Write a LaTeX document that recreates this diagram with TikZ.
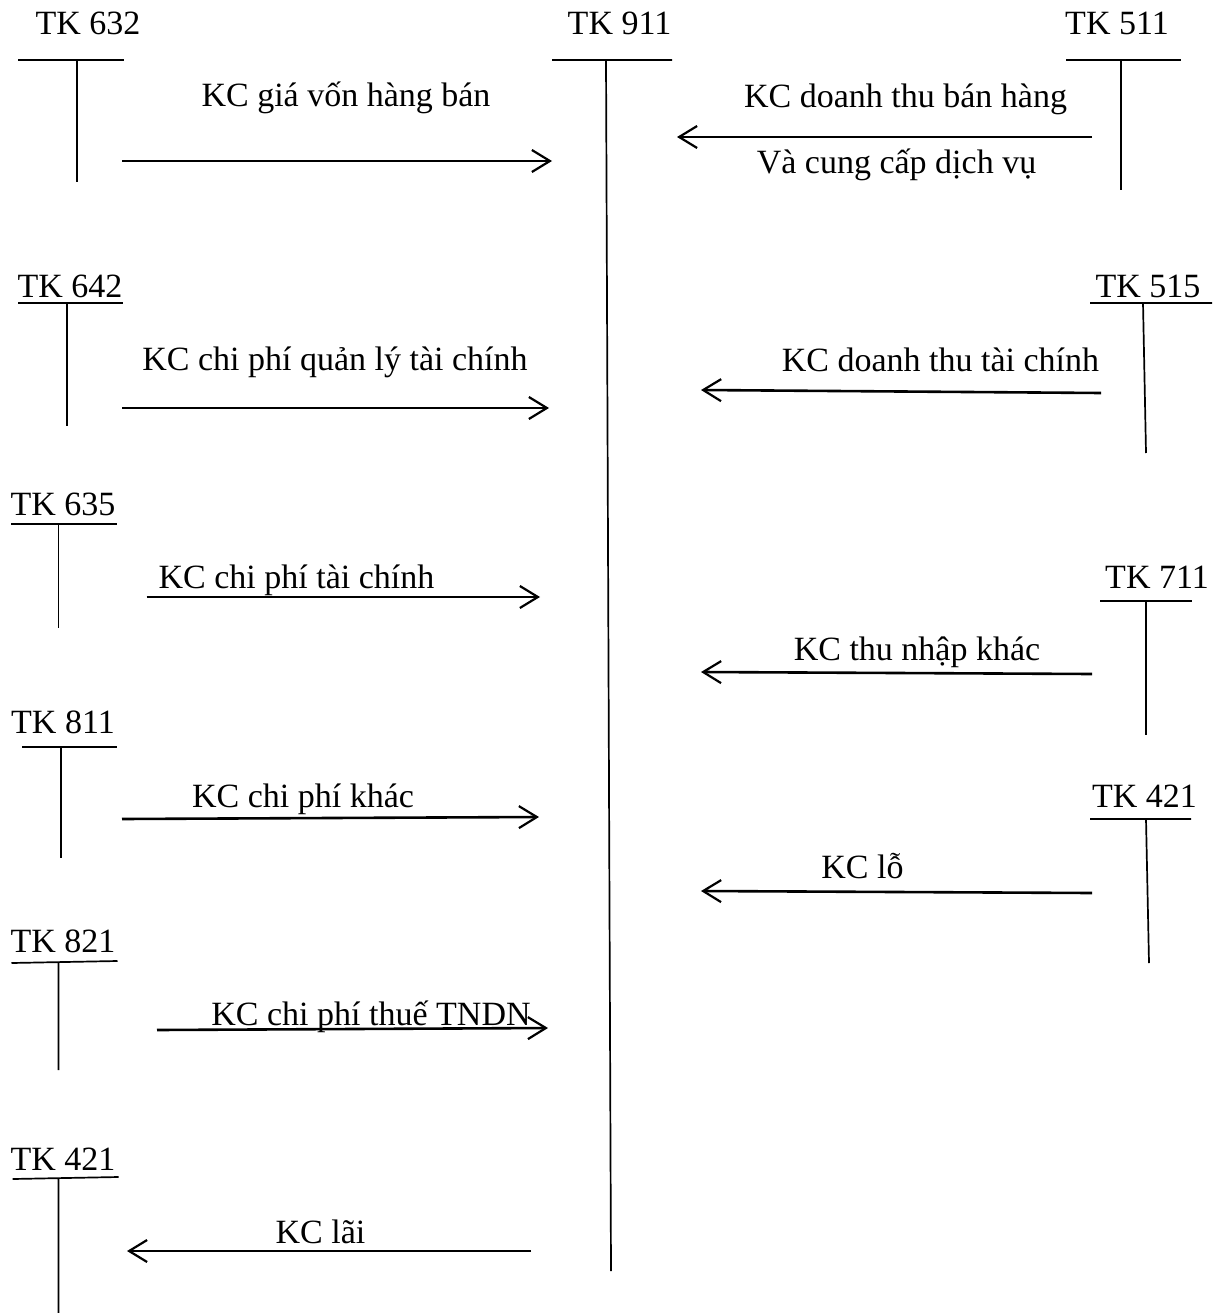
\documentclass[tikz,border=0pt]{standalone}
\usepackage{fontspec}
\setmainfont{Liberation Serif}
\usetikzlibrary{arrows.meta}
\begin{document}
\begin{tikzpicture}[x=1pt,y=-1pt,
  lbl/.style={anchor=base, inner sep=0pt, font=\fontsize{34}{40}\selectfont},
  tline/.style={line width=1.7pt},
  flow/.style={line width=2.6pt, -{Straight Barb[length=18pt,width=22pt,line width=2.2pt]}}
]
\useasboundingbox (0,0) rectangle (1222,1313);

% account titles
\node[lbl] (t632) at (88,35) {TK 632};
\node[lbl] (t911) at (619.5,35) {TK 911};
\node[lbl] (t511) at (1117,35) {TK 511};
\node[lbl] (t642) at (70,298) {TK 642};
\node[lbl] (t515) at (1148,298) {TK 515};
\node[lbl] (t635) at (63,515) {TK 635};
\node[lbl] (t711) at (1157,588) {TK 711};
\node[lbl] (t811) at (63,733) {TK 811};
\node[lbl] (t421r) at (1144.5,807) {TK 421};
\node[lbl] (t821) at (63,952) {TK 821};
\node[lbl] (t421l) at (63,1170) {TK 421};

% T-accounts
\draw[tline] (18,60) -- (124,60) (77,60) -- (77,182);
\draw[tline] (552,60) -- (672,60) (606,60) -- (611,1271);
\draw[tline] (1066,60) -- (1181,60) (1121,60) -- (1121,190);
\draw[tline] (18,303) -- (123,303) (67,303) -- (67,426);
\draw[tline] (1090,303) -- (1212,303) (1143,303) -- (1146,453);
\draw[tline] (11,524) -- (117,524) (58.5,524) -- (58.5,628);
\draw[tline] (1100,601) -- (1192,601) (1146,601) -- (1146,735);
\draw[tline] (22,747) -- (117,747) (61,747) -- (61,858);
\draw[tline] (1090,819) -- (1191,819) (1146,819) -- (1149,963);
\draw[tline] (11.5,963) -- (117.5,961) (58.5,962) -- (58.5,1070);
\draw[tline] (12.6,1179) -- (118.6,1177) (58.5,1178) -- (58.5,1313);

% arrow end points
\coordinate (a632s) at (122,161);   \coordinate (a632e) at (552,161);
\coordinate (a511s) at (1092,137);  \coordinate (a511e) at (677,137);
\coordinate (a642s) at (122,408);   \coordinate (a642e) at (549,408);
\coordinate (a515s) at (1101,393);  \coordinate (a515e) at (701,390);
\coordinate (a635s) at (146.6,597); \coordinate (a635e) at (540,597);
\coordinate (a711s) at (1092,674);  \coordinate (a711e) at (701,672);
\coordinate (a811s) at (122,819);   \coordinate (a811e) at (539,817);
\coordinate (a421rs) at (1092,893); \coordinate (a421re) at (701,891);
\coordinate (a821s) at (157,1030);  \coordinate (a821e) at (548,1028);
\coordinate (a421ls) at (531,1251); \coordinate (a421le) at (127,1251);

\draw[flow] (a632s) -- (a632e);
\draw[flow] (a511s) -- (a511e);
\draw[flow] (a642s) -- (a642e);
\draw[flow] (a515s) -- (a515e);
\draw[flow] (a635s) -- (a635e);
\draw[flow] (a711s) -- (a711e);
\draw[flow] (a811s) -- (a811e);
\draw[flow] (a421rs) -- (a421re);
\draw[flow] (a821s) -- (a821e);
\draw[flow] (a421ls) -- (a421le);

% arrow labels
\node[lbl] (l632) at (346,107) {KC giá vốn hàng bán};
\node[lbl] (l511a) at (905.5,108) {KC doanh thu bán hàng};
\node[lbl] (l511b) at (896.5,174) {Và cung cấp dịch vụ};
\node[lbl] (l642) at (335,370) {KC chi phí quản lý tài chính};
\node[lbl] (l515) at (940.5,371) {KC doanh thu tài chính};
\node[lbl] (l635) at (296.5,588) {KC chi phí tài chính};
\node[lbl] (l711) at (917,660) {KC thu nhập khác};
\node[lbl] (l811) at (303,807) {KC chi phí khác};
\node[lbl] (l421r) at (862.5,878) {KC lỗ};
\node[lbl] (l821) at (371,1025) {KC chi phí thuế TNDN};
\node[lbl] (l421l) at (320.5,1243) {KC lãi};
\end{tikzpicture}
\end{document}
